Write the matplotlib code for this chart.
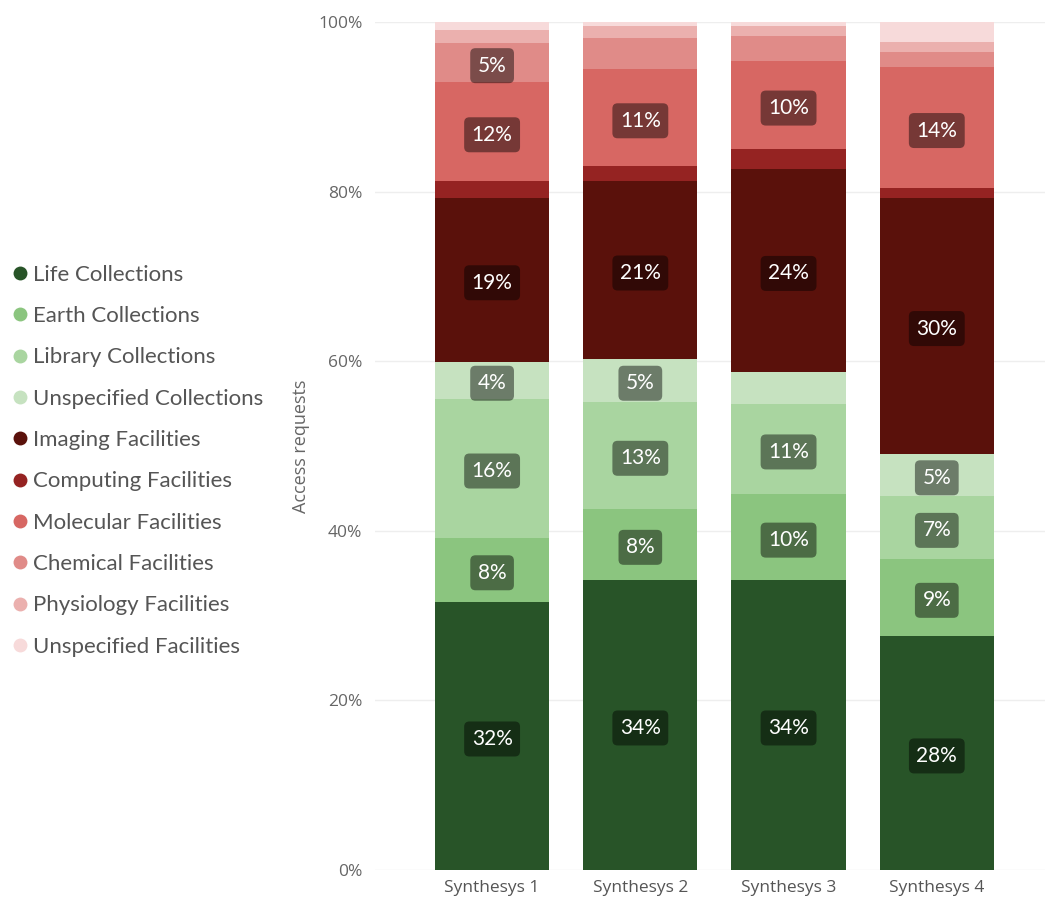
import numpy as np
import matplotlib
matplotlib.use("Agg")
import matplotlib.pyplot as plt
from matplotlib.lines import Line2D

programmes = ["Synthesys 1", "Synthesys 2", "Synthesys 3", "Synthesys 4"]
categories = ["Life Collections", "Earth Collections", "Library Collections",
              "Unspecified Collections", "Imaging Facilities", "Computing Facilities",
              "Molecular Facilities", "Chemical Facilities", "Physiology Facilities",
              "Unspecified Facilities"]

# share of access requests (%) per programme, bottom to top
life = [31.6, 34.2, 34.2, 27.6]
earth = [7.6, 8.4, 10.1, 9.1]
library = [16.4, 12.6, 10.7, 7.4]
unspec_coll = [4.3, 5.1, 3.7, 5.0]
imaging = [19.4, 20.9, 24.0, 30.2]
computing = [1.9, 1.8, 2.3, 1.1]
molecular = [11.7, 11.4, 10.4, 14.3]
chemical = [4.6, 3.7, 2.9, 1.8]
physiology = [1.5, 1.4, 1.2, 1.2]
unspec_fac = [1.0, 0.5, 0.5, 2.3]

colors = ["#285428", "#8bc57f", "#a9d5a0", "#c6e2c0", "#5a110b",
          "#952322", "#d76763", "#e08b88", "#ebb0ae", "#f7dada"]

series = [life, earth, library, unspec_coll, imaging, computing,
          molecular, chemical, physiology, unspec_fac]

fig = plt.figure(figsize=(10.45, 8.99), dpi=100)
ax = fig.add_axes([375/1045, 29/899, 670/1045, 848/899])

x = np.arange(len(programmes))
bottom = np.zeros(len(programmes))
for name, vals, c in zip(categories, series, colors):
    vals = np.array(vals)
    ax.bar(x, vals, 0.77, bottom=bottom, color=c, label=name, zorder=2)
    for xi, v, b in zip(x, vals, bottom):
        if v >= 4:
            ax.text(xi, b + v/2 - 0.35, f"{v:.0f}%", ha="center", va="center",
                    color="white", fontsize=15, family="Lato", zorder=4,
                    bbox=dict(boxstyle="round,pad=0.36,rounding_size=0.25",
                              fc=(0, 0, 0, 0.45), ec="none"))
    bottom += vals

ax.set_xlim(-0.79, 3.73)
ax.set_ylim(0, 100)
ax.set_yticks([0, 20, 40, 60, 80, 100])
ax.set_yticklabels([f"{t}%" for t in [0, 20, 40, 60, 80, 100]],
                   fontsize=12.5, color="#666666", family="Open Sans")
ax.set_xticks(x)
ax.set_xticklabels(programmes, fontsize=12.5, color="#555555", family="Open Sans")
ax.tick_params(length=0, axis="y", pad=9)
ax.tick_params(length=0, axis="x", pad=7)
ax.grid(axis="y", color="#eeeeee", lw=1, zorder=0)
for s in ax.spines.values():
    s.set_visible(False)
ax.set_ylabel("Access requests", fontsize=13, color="#666666",
              family="Open Sans", labelpad=6)

handles = [Line2D([], [], ls="", marker="o", markersize=10, color=c,
                  markeredgewidth=0) for c in colors]
fig.legend(handles, categories, loc="upper left", bbox_to_anchor=(0.004, 0.7155),
           frameon=False, prop={"family": "Lato", "size": 16},
           labelcolor="#555555", handlelength=0.6, handletextpad=0.3,
           labelspacing=0.96, borderaxespad=0)

plt.savefig("out.png", dpi=100)
